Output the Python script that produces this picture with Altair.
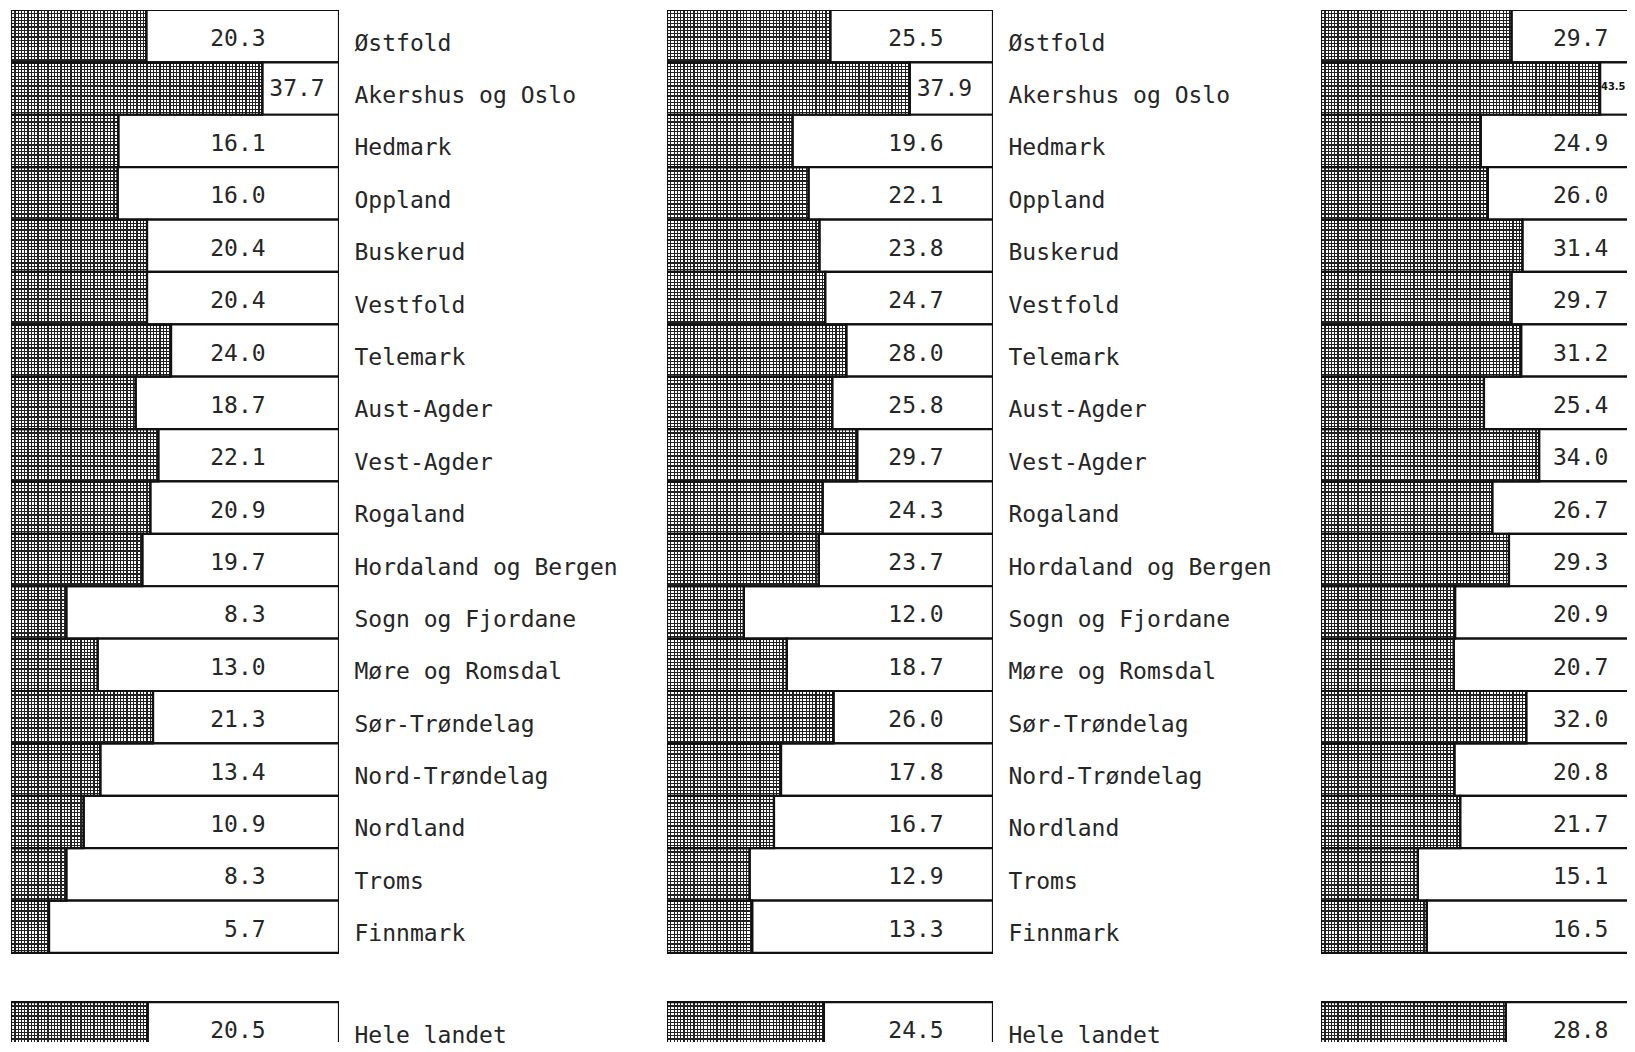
import json
import altair as alt
import pandas as pd

# ---------------- data ----------------
regions = ["Østfold", "Akershus og Oslo", "Hedmark", "Oppland", "Buskerud",
           "Vestfold", "Telemark", "Aust-Agder", "Vest-Agder", "Rogaland",
           "Hordaland og Bergen", "Sogn og Fjordane", "Møre og Romsdal",
           "Sør-Trøndelag", "Nord-Trøndelag", "Nordland", "Troms", "Finnmark"]
total_label = "Hele landet"

values_1 = [20.3, 37.7, 16.1, 16.0, 20.4, 20.4, 24.0, 18.7, 22.1, 20.9,
            19.7, 8.3, 13.0, 21.3, 13.4, 10.9, 8.3, 5.7]
values_2 = [25.5, 37.9, 19.6, 22.1, 23.8, 24.7, 28.0, 25.8, 29.7, 24.3,
            23.7, 12.0, 18.7, 26.0, 17.8, 16.7, 12.9, 13.3]
values_3 = [29.7, 43.5, 24.9, 26.0, 31.4, 29.7, 31.2, 25.4, 34.0, 26.7,
            29.3, 20.9, 20.7, 32.0, 20.8, 21.7, 15.1, 16.5]
totals = [20.5, 24.5, 28.8]

# ---------------- layout / style ----------------
FONT = "DejaVu Sans Mono"
FS = 23
INK = "#262626"
GAP_ROWS = 0.94      # blank space before "Hele landet" in row heights
Y_MAX = 19.7         # visible part of the row axis
HEIGHT = 1032
ROW_PX = HEIGHT / Y_MAX
AXIS_EXTENT = 328

panels = [
    dict(values=values_1, total=totals[0], width=328, xmax=49.2, box=49.2, tx=38.2, labels=True),
    dict(values=values_2, total=totals[1], width=326, xmax=50.9, box=50.9, tx=43.2, labels=True),
    dict(values=values_3, total=totals[2], width=306, xmax=47.7, box=51.0, tx=44.8, labels=False),
]


def stripes(length_px, light, dark="#222222", period=3.3, thick=1.2):
    stops = []
    pos = 0.0
    while pos < length_px:
        s = pos / length_px
        e = min((pos + thick) / length_px, 1.0)
        n = min((pos + period) / length_px, 1.0)
        stops += [{"offset": round(s, 5), "color": dark},
                  {"offset": round(e, 5), "color": dark},
                  {"offset": round(e, 5), "color": light},
                  {"offset": round(n, 5), "color": light}]
        pos += period
    return stops


names = regions + ["", total_label]
label_expr = json.dumps(names, ensure_ascii=False) + "[floor(datum.value)]"
axis_values = [i + 0.5 for i in range(len(regions))] + [len(regions) + GAP_ROWS + 0.5]


def make_panel(p):
    rows = []
    for i, (r, v) in enumerate(zip(regions, p["values"])):
        rows.append({"region": r, "value": v, "y0": float(i)})
    rows.append({"region": total_label, "value": p["total"],
                 "y0": len(regions) + GAP_ROWS})
    df = pd.DataFrame(rows)
    df["y1"] = df["y0"] + 1
    df["yc"] = df["y0"] + 0.5
    df["label"] = df["value"].map(lambda v: f"{v:.1f}")
    px_per_unit = p["width"] / p["xmax"]
    text_units = 4 * FS * 0.602 / px_per_unit
    df["overflow"] = df["value"] > p["tx"] - text_units - 0.3
    df["small"] = df["overflow"] & ((p["box"] - df["value"]) * px_per_unit < 65)

    xs = alt.Scale(domain=[0, p["xmax"]], nice=False, zero=True)
    ys = alt.Scale(domain=[0, Y_MAX], nice=False, reverse=True, zero=True)
    if p["labels"]:
        yaxis = alt.Axis(orient="right", values=axis_values, labelExpr=label_expr,
                         ticks=False, domain=False, grid=False, title=None,
                         labelFont=FONT, labelFontSize=FS, labelColor=INK,
                         labelPadding=15, labelBaseline="middle", labelOffset=7,
                         labelOverlap=False, labelFlush=False, labelLimit=0,
                         minExtent=AXIS_EXTENT, maxExtent=AXIS_EXTENT)
    else:
        yaxis = None

    base = alt.Chart(df).transform_calculate(
        zero="0", xmax=str(p["xmax"]), box=str(p["box"]), tx=str(p["tx"]))

    vert = base.mark_rect(
        clip=True,
        fill={"gradient": "linear", "x1": 0, "y1": 0, "x2": 1, "y2": 0,
              "stops": stripes(p["width"], "#ffffff")},
    ).encode(x=alt.X("zero:Q", scale=xs, axis=None), x2="xmax:Q",
             y=alt.Y("y0:Q", scale=ys, axis=yaxis), y2="y1:Q")

    horiz = base.mark_rect(
        clip=True,
        fill={"gradient": "linear", "x1": 0, "y1": 0, "x2": 0, "y2": 1,
              "stops": stripes(ROW_PX, "rgba(255,255,255,0)")},
    ).encode(x=alt.X("zero:Q", scale=xs, axis=None), x2="xmax:Q",
             y=alt.Y("y0:Q", scale=ys, axis=yaxis), y2="y1:Q")

    box = base.mark_rect(clip=True, fill="white", stroke="#111111", strokeWidth=2.2
    ).encode(x=alt.X("value:Q", scale=xs, axis=None), x2="box:Q",
             y=alt.Y("y0:Q", scale=ys, axis=yaxis), y2="y1:Q")

    bar_outline = base.mark_rect(clip=True, fillOpacity=0, stroke="#111111", strokeWidth=2.2
    ).encode(x=alt.X("zero:Q", scale=xs, axis=None), x2="value:Q",
             y=alt.Y("y0:Q", scale=ys, axis=yaxis), y2="y1:Q")

    txt = base.transform_filter("!datum.overflow").mark_text(
        align="right", baseline="middle", font=FONT, fontSize=FS, color=INK, dy=3
    ).encode(x=alt.X("tx:Q", scale=xs, axis=None),
             y=alt.Y("yc:Q", scale=ys, axis=yaxis), text="label:N")

    txt_over = base.transform_filter("datum.overflow && !datum.small").mark_text(
        align="left", baseline="middle", font=FONT, fontSize=FS, color=INK, dx=7, dy=0
    ).encode(x=alt.X("value:Q", scale=xs, axis=None),
             y=alt.Y("yc:Q", scale=ys, axis=yaxis), text="label:N")

    txt_small = base.transform_filter("datum.small").mark_text(
        clip=True, align="left", baseline="middle", font="DejaVu Sans Condensed",
        fontSize=11, fontWeight="bold", color="#111111", dx=1, dy=-2
    ).encode(x=alt.X("value:Q", scale=xs, axis=None),
             y=alt.Y("yc:Q", scale=ys, axis=yaxis), text="label:N")

    return alt.layer(vert, horiz, box, bar_outline, txt, txt_over, txt_small).properties(
        width=p["width"], height=HEIGHT)


chart = alt.hconcat(*[make_panel(p) for p in panels], spacing=0).properties(
    padding={"left": 3, "top": 2, "right": 0, "bottom": 0},
    background="white",
).configure_view(stroke=None)

chart.save("out.html", embed_options={"renderer": "svg", "actions": False})
